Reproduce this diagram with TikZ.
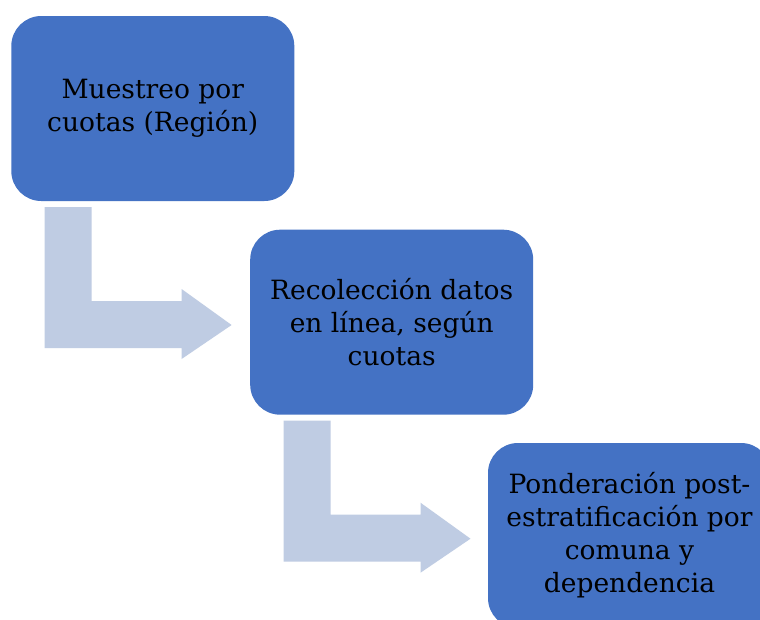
\documentclass[tikz,border=0pt]{standalone}
\usepackage{fontspec}
\setmainfont{DejaVu Serif}
\usetikzlibrary{calc}
\definecolor{boxblue}{HTML}{4472C4}
\definecolor{arrowfill}{HTML}{BFCCE3}
\tikzset{
  stagebox/.style={fill=boxblue, rounded corners=30pt, minimum width=283pt, minimum height=185pt,
    inner sep=0pt, outer sep=0pt, align=center, text=black,
    font=\fontsize{26.5pt}{33pt}\selectfont},
  bentarrow/.pic={\fill[arrowfill] (0,0) -- (47,0) -- (47,94) -- (137,94) -- (137,82) -- (187,118)
     -- (137,152) -- (137,141) -- (0,141) -- cycle;}
}
\begin{document}
\begin{tikzpicture}[x=1pt,y=-1pt]
\useasboundingbox (0,0) rectangle (760,619);
\clip (0,0) rectangle (760,619);
\fill[white] (0,0) rectangle (760,619);
\node[stagebox] (b1) at (152.8,108.5) {Muestreo por\\cuotas (Región)};
\node[stagebox] (b2) at (391.7,322.2) {Recolección datos\\en línea, según\\cuotas};
\node[stagebox] (b3) at (629.5,535.5) {Ponderación post-\\estratificación por\\comuna y\\dependencia};
\pic at ($(b1.south west)+(33.3,6)$) {bentarrow};
\pic at ($(b2.south west)+(33.3,6)$) {bentarrow};
\end{tikzpicture}
\end{document}
